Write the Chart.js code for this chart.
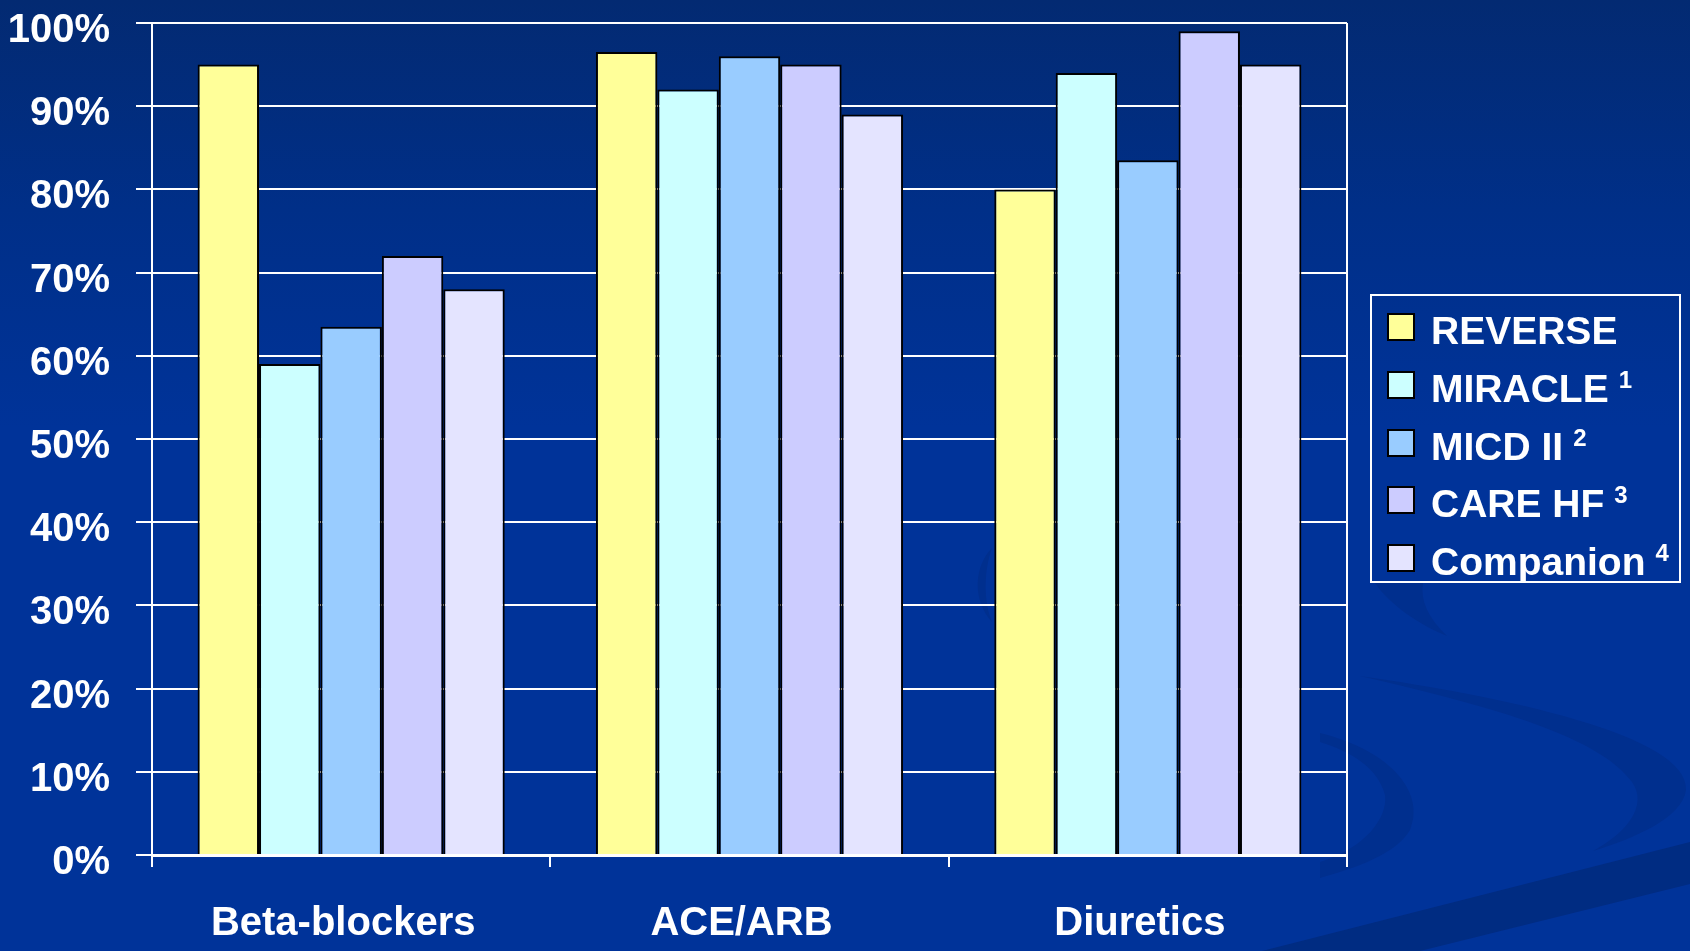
<!DOCTYPE html>
<html>
<head>
<meta charset="utf-8">
<script src="https://cdn.jsdelivr.net/npm/chart.js@4/dist/chart.umd.min.js"></script>
<style>
  html, body { margin: 0; padding: 0; background: #003399; overflow: hidden; }
  #wrap { position: relative; width: 1690px; height: 951px; }
  #wrap canvas { display: block; }
  #legend {
    position: absolute; left: 1370px; top: 294px; width: 311px; height: 289px;
    border: 2px solid #fff; box-sizing: border-box;
    font-family: "Liberation Sans", Arial, sans-serif; font-weight: bold; color: #fff;
  }
  .item { position: absolute; left: 0; width: 100%; height: 58px; }
  .swatch { position: absolute; left: 15px; top: 11px; width: 28px; height: 28px; border: 2px solid #000; box-sizing: border-box; }
  .label { position: absolute; left: 59px; top: 0; height: 58px; line-height: 58px; font-size: 39px; white-space: nowrap; }
  .label sup { font-size: 24px; line-height: 0; position: relative; top: -14px; vertical-align: baseline; margin-left: 10px; }
</style>
</head>
<body>
<div id="wrap">
  <canvas id="chartTherapy" width="1690" height="951"></canvas>
  <div id="legend"></div>
</div>
<script>
// ======== Medical therapy at baseline, by trial ========

const categories = ["Beta-blockers", "ACE/ARB", "Diuretics"];
const studies = ["REVERSE", "MIRACLE", "MICD II", "CARE HF", "Companion"];
const studyRefs = ["", "1", "2", "3", "4"];
const studyColors = ["#FFFF99", "#CCFFFF", "#99CCFF", "#CCCCFF", "#E4E4FF"];

// % of patients per therapy class
const reverse   = [95, 96.5, 80];
const miracle   = [59, 92, 94];
const micd2     = [63.5, 96, 83.5];
const careHf    = [72, 95, 99];
const companion = [68, 89, 95];
const seriesValues = [reverse, miracle, micd2, careHf, companion];

const FONT = "Liberation Sans";

// slide background: gradient plus the darker swooshes at the lower right
const backdrop = {
  id: "backdrop",
  beforeDraw(chart) {
    const { ctx, width, height } = chart;
    ctx.save();
    const g = ctx.createLinearGradient(0, 0, 0, height);
    g.addColorStop(0, "#032a72");
    g.addColorStop(0.22, "#002f88");
    g.addColorStop(0.45, "#003399");
    g.addColorStop(1, "#003399");
    ctx.fillStyle = g;
    ctx.fillRect(0, 0, width, height);

    ctx.fillStyle = "#002f8e";
    // small arc under the legend
    ctx.beginPath();
    ctx.moveTo(1375, 583);
    ctx.bezierCurveTo(1390, 605, 1420, 625, 1447, 636);
    ctx.bezierCurveTo(1428, 618, 1420, 600, 1423, 583);
    ctx.closePath();
    ctx.fill();
    // left crescent
    ctx.beginPath();
    ctx.moveTo(1320, 733);
    ctx.bezierCurveTo(1395, 752, 1425, 795, 1410, 830);
    ctx.bezierCurveTo(1398, 850, 1370, 864, 1320, 878);
    ctx.lineTo(1320, 862);
    ctx.bezierCurveTo(1365, 848, 1388, 818, 1385, 795);
    ctx.bezierCurveTo(1378, 768, 1352, 752, 1320, 742);
    ctx.closePath();
    ctx.fill();
    // large crescent
    ctx.beginPath();
    ctx.moveTo(1360, 676);
    ctx.bezierCurveTo(1500, 696, 1690, 735, 1686, 790);
    ctx.bezierCurveTo(1682, 818, 1635, 838, 1593, 851);
    ctx.bezierCurveTo(1628, 832, 1648, 805, 1632, 782);
    ctx.bezierCurveTo(1600, 738, 1500, 708, 1360, 676);
    ctx.closePath();
    ctx.fill();
    // arc beside the diuretics group
    ctx.beginPath();
    ctx.moveTo(992, 548);
    ctx.bezierCurveTo(974, 566, 972, 600, 992, 622);
    ctx.bezierCurveTo(983, 600, 984, 570, 992, 548);
    ctx.closePath();
    ctx.fill();
    // diagonal band along the bottom edge
    ctx.fillStyle = "#002c82";
    ctx.beginPath();
    ctx.moveTo(1262, 951);
    ctx.lineTo(1690, 842);
    ctx.lineTo(1690, 884);
    ctx.lineTo(1420, 951);
    ctx.closePath();
    ctx.fill();
    ctx.restore();
  }
};

const ctxT = document.getElementById("chartTherapy");
new Chart(ctxT, {
  type: "bar",
  data: {
    labels: categories,
    datasets: studies.map((name, i) => ({
      label: name,
      data: seriesValues[i],
      backgroundColor: studyColors[i],
      borderColor: "#000",
      borderWidth: 2,
      borderSkipped: "bottom",
      barPercentage: 1,
      categoryPercentage: 0.771
    }))
  },
  options: {
    responsive: false,
    animation: false,
    layout: { padding: { top: 0, right: 343, bottom: 0, left: 0 } },
    plugins: { legend: { display: false }, tooltip: { enabled: false } },
    scales: {
      x: {
        afterFit: s => { s.height = 96; },
        grid: {
          offset: true,
          drawOnChartArea: true,
          color: c => (c.index === 0 || c.index === undefined) ? "#fff" : "rgba(0,0,0,0)",
          tickColor: "#fff",
          tickLength: 12,
          lineWidth: 2
        },
        border: { color: "#fff", width: 3 },
        ticks: {
          color: "#fff",
          padding: 33,
          labelOffset: -8,
          maxRotation: 0,
          font: { family: FONT, size: 40, weight: "bold" }
        }
      },
      y: {
        min: 0,
        max: 100,
        afterFit: s => { s.width = 152; s.paddingTop = 23; s.paddingBottom = 0; },
        grid: { color: "#fff", lineWidth: 2, tickLength: 16 },
        border: { color: "#fff", width: 2 },
        ticks: {
          stepSize: 10,
          color: "#fff",
          padding: 26,
          labelOffset: 8,
          font: { family: FONT, size: 40, weight: "bold", lineHeight: 1.1 },
          callback: v => v + "%"
        }
      }
    }
  },
  plugins: [backdrop]
});

// === Legend ===
const legendBox = document.getElementById("legend");
studies.forEach((name, i) => {
  const row = document.createElement("div");
  row.className = "item";
  row.style.top = (6 + 57.8 * i) + "px";
  const sw = document.createElement("div");
  sw.className = "swatch";
  sw.style.background = studyColors[i];
  const lb = document.createElement("div");
  lb.className = "label";
  lb.textContent = name;
  if (studyRefs[i]) {
    const sup = document.createElement("sup");
    sup.textContent = studyRefs[i];
    lb.appendChild(sup);
  }
  row.appendChild(sw);
  row.appendChild(lb);
  legendBox.appendChild(row);
});
</script>
</body>
</html>
